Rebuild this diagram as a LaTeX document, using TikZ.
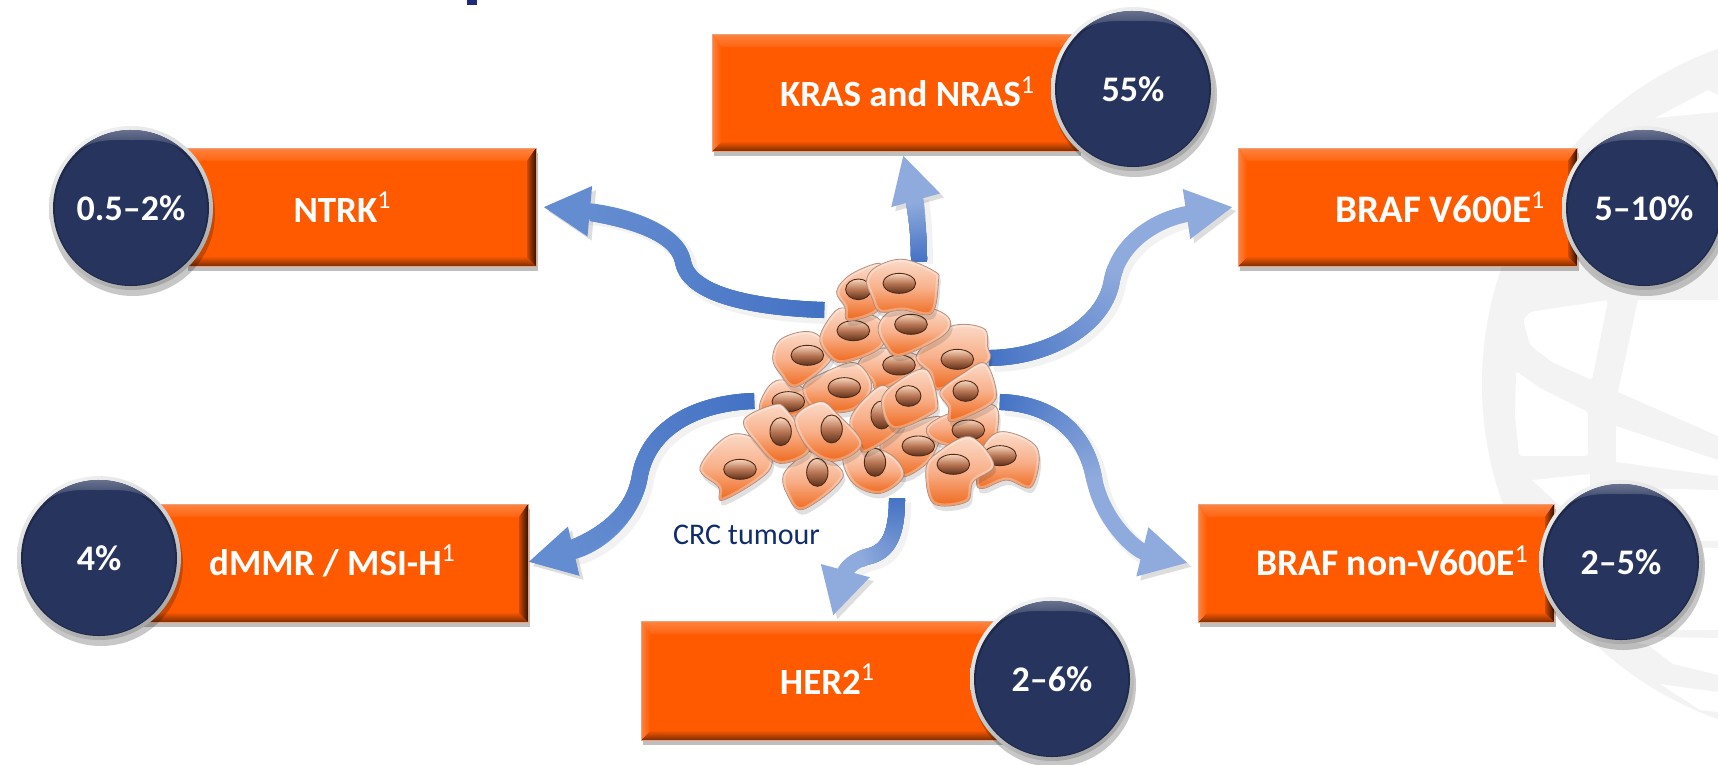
\documentclass[tikz,border=0pt]{standalone}
\usepackage{fontspec}
\setmainfont{Carlito}
\usetikzlibrary{arrows.meta,decorations.markings,shadows,calc}
\definecolor{navy}{HTML}{27345D}
\definecolor{orangeb}{HTML}{FF5A00}
\definecolor{ribdark}{HTML}{4472C4}
\definecolor{riblight}{HTML}{8FAADC}
\definecolor{ribmid}{HTML}{648CD0}
\definecolor{globe}{HTML}{F3F3F3}
\definecolor{crc}{HTML}{0F2C6B}
\definecolor{boxedge}{HTML}{E8A27E}
\newcommand\supone{\raisebox{.36em}{\fontsize{26}{26}\selectfont\mdseries 1}}
\tikzset{
  x=1pt,y=-1pt,
  orangebox/.style={rectangle,inner sep=0pt,fill=orangeb,draw=boxedge,line width=1pt,
    drop shadow={shadow xshift=2pt,shadow yshift=-5pt,opacity=.25,fill=black},
    path picture={
      \coordinate (nw) at (path picture bounding box.north west);
      \coordinate (ne) at (path picture bounding box.north east);
      \coordinate (sw) at (path picture bounding box.south west);
      \coordinate (se) at (path picture bounding box.south east);
      \fill[top color=orangeb!75!white,bottom color=orangeb!94!white] (nw) -- (ne) -- ([shift={(-9pt,-13pt)}]ne) -- ([shift={(9pt,-13pt)}]nw) -- cycle;
      \fill[top color=orangeb!95!black,bottom color=orangeb!50!black] ([shift={(9pt,9pt)}]sw) -- ([shift={(-9pt,9pt)}]se) -- (se) -- (sw) -- cycle;
      \fill[left color=orangeb!75!white,right color=orangeb] (nw) -- ([shift={(9pt,-13pt)}]nw) -- ([shift={(9pt,9pt)}]sw) -- (sw) -- cycle;
      \fill[left color=orangeb!80!black,right color=orangeb!20!black] ([shift={(-9pt,-13pt)}]ne) -- (ne) -- (se) -- ([shift={(-9pt,9pt)}]se) -- cycle;
    }},
  boxlabel/.style={text=white,font=\fontsize{37}{42}\selectfont\bfseries,inner sep=0pt},
  pct/.style={circle,inner sep=0pt,minimum size=164pt,text=white,
    font=\fontsize{36}{42}\selectfont\bfseries,
    drop shadow={shadow xshift=2pt,shadow yshift=-6pt,opacity=.22,fill=black},
    path picture={
      \coordinate (pc) at (path picture bounding box.center);
      \shade[top color=white!94!black,bottom color=black!35,shading angle=25] (path picture bounding box.north west) rectangle (path picture bounding box.south east);
      \fill[navy!80!black] (pc) circle (78pt);
      \fill[navy] ([yshift=-1pt]pc) circle (76pt);
      \shade[top color=navy!70!white,bottom color=navy] ([yshift=78pt]pc) arc[start angle=90,end angle=45,radius=78pt]
         to[out=140,in=0] ([yshift=68pt]pc) to[out=180,in=40] ([shift={(-55.2pt,55.2pt)}]pc) arc[start angle=135,end angle=90,radius=78pt] -- cycle;
    }},
  ribbon/.style 2 args={
    draw=#2,line width=16pt,
    -{Triangle[width=47pt,length=47pt]},
    preaction={draw=black!50,opacity=.10,line width=20pt,transform canvas={shift={(4pt,-4pt)}}},
    preaction={draw=black!50,opacity=.18,transform canvas={shift={(4pt,-4pt)}}},
    postaction={decorate,decoration={markings,
      mark=between positions 0 and #1 step 0.004 with {
        \pgfmathsetmacro\ribp{min(100,\pgfkeysvalueof{/pgf/decoration/mark info/sequence number}*0.4/#1)}
        \fill[#2!\ribp!ribdark] (-1.5,-8) rectangle (1.5,8);
      }}}},
  cellbody/.style={draw=cellline,line width=.9pt,top color=celltop,bottom color=cellbot,middle color=cellmid},
  nuc/.style={draw=nucline,line width=.9pt,top color=nuctop,bottom color=nucbot,middle color=nucmid},
  tumourbox/.style={inner sep=0pt,minimum width=335pt,minimum height=250pt},
  crclabel/.style={text=crc,font=\fontsize{30}{34}\selectfont,inner sep=0pt},
}
\definecolor{cellline}{HTML}{B07E66}
\definecolor{celltop}{HTML}{FBDCCB}
\definecolor{cellmid}{HTML}{F8B08A}
\definecolor{cellbot}{HTML}{EE6416}
\definecolor{nuctop}{HTML}{F8D6BC}
\definecolor{nucmid}{HTML}{B87554}
\definecolor{nucbot}{HTML}{5E3018}
\definecolor{nucline}{HTML}{4E2A1A}
\newcommand\tumourcell[2]{%
  \fill[black,opacity=.12,shift={(6,15)}] plot[smooth cycle,tension=.6] coordinates {#1};
  \path[cellbody] plot[smooth cycle,tension=.6] coordinates {#1};
  \begin{scope}
    \clip plot[smooth cycle,tension=.6] coordinates {#1};
    \draw[white,opacity=.3,line width=5pt] plot[smooth cycle,tension=.6] coordinates {#1};
  \end{scope}
  #2}
\newcommand\nuch[1]{\path[nuc] (#1) ellipse[x radius=49,y radius=30];}
\newcommand\nucv[1]{\path[nuc] (#1) ellipse[x radius=32,y radius=42];}
\newcommand\nucr[1]{\path[nuc] (#1) ellipse[x radius=38,y radius=31];}
\begin{document}
\begin{tikzpicture}
\useasboundingbox (0,0) rectangle (1718,764);
\clip (0,0) rectangle (1718,764);
\fill[white] (0,0) rectangle (1718,764);
% watermark globe: a pale disc with white panels
\fill[globe] (1838,384) circle (356);
\fill[white,rounded corners=3pt] (1523,320) -- (1530,312) -- (1608,300) -- (1592,380) -- (1552,362) -- (1530,345) -- cycle;
\fill[white,rounded corners=3pt] (1516,371) -- (1540,388) -- (1588,412) -- (1588,456) -- (1519,456) -- (1515,415) -- cycle;
\fill[white] (1638,300) -- (1718,300) -- (1718,436) -- (1618,392) -- cycle;
\fill[white] (1616,426) -- (1718,460) -- (1718,476) -- (1616,462) -- cycle;
\fill[white] (1532,480) -- (1590,474) -- (1590,515) -- (1570,515) -- cycle;
\fill[white] (1655,118) -- (1708,90) -- (1718,95) -- (1718,112) -- cycle;
\fill[white] (1640,488) -- (1718,490) -- (1718,541) -- (1640,541) -- cycle;
\fill[white] (1640,546) -- (1718,548) -- (1718,630) -- (1640,630) -- cycle;
\fill[white] (1600,636) -- (1718,638) -- (1718,675) -- (1673,664) -- (1648,645) -- cycle;
\fill[white] (1660,684) -- (1700,710) -- (1718,712) -- (1718,692) -- cycle;
% title remnant
\fill[navy!80!blue] (467,0) rectangle (477,5);
% connector ends
\coordinate (sN) at (823,310);
\coordinate (tN) at (543,207);
\coordinate (sK) at (919,260);
\coordinate (tK) at (903,155);
\coordinate (sV) at (990,358);
\coordinate (tV) at (1233,207);
\coordinate (sD) at (753,401);
\coordinate (tD) at (528,562);
\coordinate (sH) at (897,499);
\coordinate (tH) at (833,616);
\coordinate (sB) at (1001,402);
\coordinate (tB) at (1188,563);
% connectors
\draw[ribbon={0.84}{ribmid}] (sN) .. controls (765,308) and (690,298) .. (683,262) .. controls (677,230) and (620,214) .. (tN);
\draw[ribbon={0.55}{riblight}] (sK) .. controls (919,235) and (917,205) .. (tK);
\draw[ribbon={0.55}{riblight}] (sV) .. controls (1050,357) and (1105,325) .. (1112,280) .. controls (1120,240) and (1160,218) .. (tV);
\draw[ribbon={0.84}{ribmid}] (sD) .. controls (700,403) and (650,425) .. (640,475) .. controls (634,515) and (600,545) .. (tD);
\draw[ribbon={0.55}{riblight}] (sH) .. controls (897,535) and (888,551) .. (870,556) .. controls (855,559) and (846,568) .. (tH);
\draw[ribbon={0.5}{riblight}] (sB) .. controls (1050,404) and (1085,430) .. (1094,478) .. controls (1102,520) and (1135,550) .. (tB);
% boxes
\node[orangebox,minimum width=350pt,minimum height=118pt] (ntrk) at (361,207) {};
\node[orangebox,minimum width=367pt,minimum height=117pt] (kras) at (895.5,92.5) {};
\node[orangebox,minimum width=339pt,minimum height=118pt] (v600) at (1407.5,207) {};
\node[orangebox,minimum width=386pt,minimum height=118pt] (dmmr) at (335,563) {};
\node[orangebox,minimum width=378pt,minimum height=119pt] (her2) at (830,680.5) {};
\node[orangebox,minimum width=356pt,minimum height=118pt] (nonv) at (1376,563) {};
% box texts
\node[boxlabel] (lN) at (342,207) {NTRK\supone};
\node[boxlabel] (lK) at (907,92) {KRAS and NRAS\supone};
\node[boxlabel,font=\fontsize{39}{44}\selectfont\bfseries] (lV) at (1440,207) {BRAF V600E\supone};
\node[boxlabel] (lD) at (332,561) {dMMR / MSI-H\supone};
\node[boxlabel] (lH) at (827,679) {HER2\supone};
\node[boxlabel,font=\fontsize{37.5}{44}\selectfont\bfseries] (lB) at (1392,561) {BRAF non-V600E\supone};
% circles
\node[pct] (cN) at (131,208) {0.5–2\%};
\node[pct] (cK) at (1133,89) {55\%};
\node[pct] (cV) at (1644,208) {5–10\%};
\node[pct] (cD) at (99,558) {4\%};
\node[pct] (cH) at (1052,679) {2–6\%};
\node[pct] (cB) at (1621,562) {2–5\%};
% tumour
\node[tumourbox] (tumour) at (871,431) {};
\begin{scope}[shift={(640,230)},x=.3333pt,y=-.3333pt]
\tumourcell{(360,520)(390,465)(430,450)(490,475)(525,530)(450,560)(370,550)}{\nuch{445,515}}
\tumourcell{(655,400)(720,355)(830,375)(850,410)(720,480)(695,450)}{\nuch{777,405}}
\tumourcell{(830,375)(930,290)(1030,295)(1043,350)(1040,400)(900,480)(870,430)}{\nuch{952,388}}
\tumourcell{(490,470)(570,420)(650,400)(695,470)(640,540)(530,540)}{\nuch{613,473}}
\tumourcell{(398,385)(420,330)(490,305)(540,320)(575,385)(470,470)(420,430)}{\nuch{502,376}}
\tumourcell{(540,320)(580,250)(620,235)(720,270)(725,350)(610,398)(560,370)}{\nuch{640,302}}
\tumourcell{(715,290)(760,240)(870,235)(930,270)(905,320)(780,378)(735,345)}{\nuch{813,283}}
\tumourcell{(590,185)(630,135)(715,100)(725,130)(690,170)(715,240)(625,272)(615,230)}{\nucr{655,178}}
\tumourcell{(680,150)(710,110)(790,88)(885,125)(895,155)(875,250)(790,240)(720,245)(695,200)}{\nuch{778,160}}
\tumourcell{(720,650)(780,595)(900,560)(900,625)(860,700)(775,740)}{\nuch{835,648}}
\tumourcell{(860,595)(930,550)(1060,525)(1072,600)(1040,660)(900,640)}{\nuch{985,600}}
\tumourcell{(1030,650)(1090,605)(1192,655)(1175,770)(1100,750)(1030,775)(1010,755)}{\nuch{1080,677}}
\tumourcell{(610,680)(680,650)(760,680)(790,740)(720,790)(640,760)}{\nucv{705,697}}
\tumourcell{(430,735)(470,690)(510,665)(610,735)(490,838)(440,790)}{\nucv{532,727}}
\tumourcell{(180,712)(270,615)(370,640)(388,720)(250,810)(235,770)}{\nuch{300,718}}
\tumourcell{(630,570)(680,500)(740,470)(790,580)(680,665)(650,630)}{\nucv{725,555}}
\tumourcell{(725,510)(780,450)(860,420)(893,520)(870,555)(760,595)}{\nucr{805,498}}
\tumourcell{(312,570)(400,525)(440,540)(510,655)(420,700)(350,640)}{\nucv{422,605}}
\tumourcell{(465,565)(540,515)(590,550)(665,640)(590,693)(510,660)}{\nucv{575,597}}
\tumourcell{(900,485)(970,430)(1035,400)(1068,480)(1050,525)(935,575)(925,530)}{\nucr{977,483}}
\tumourcell{(858,720)(890,670)(990,620)(1062,705)(1000,755)(980,815)(880,820)}{\nuch{940,703}}
\end{scope}
\node[crclabel,anchor=west] (crc) at (673,535) {CRC tumour};
\end{tikzpicture}
\end{document}
